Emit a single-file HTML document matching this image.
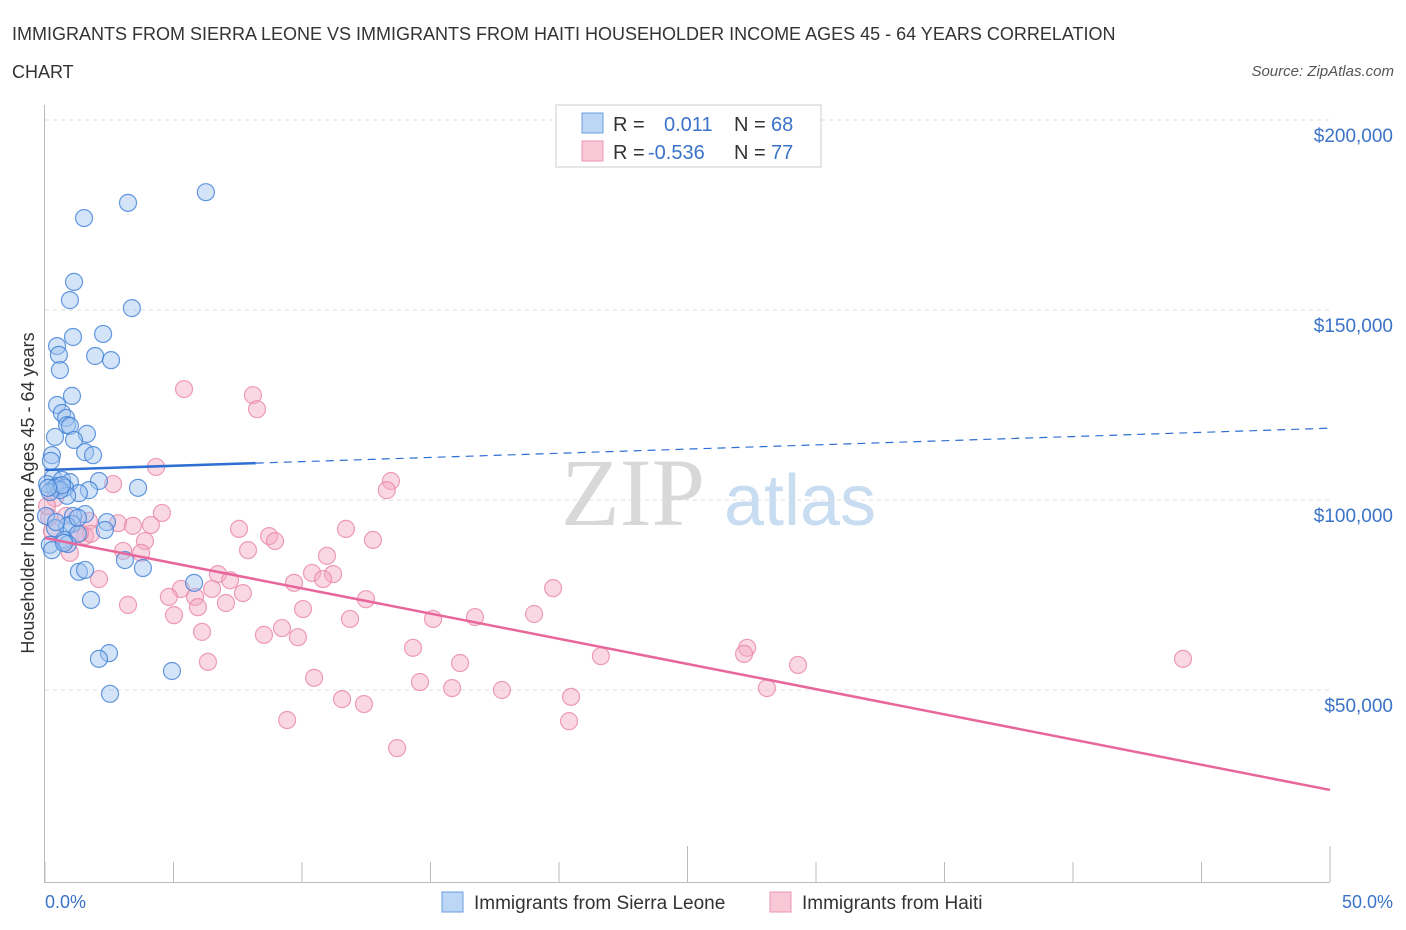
<!DOCTYPE html>
<html><head><meta charset="utf-8"><style>
body{margin:0;background:#fff;font-family:"Liberation Sans",sans-serif;}
svg{display:block}
</style></head><body>
<svg id="chart" width="1406" height="930">
<text x="12" y="40" font-size="18" fill="#333">IMMIGRANTS FROM SIERRA LEONE VS IMMIGRANTS FROM HAITI HOUSEHOLDER INCOME AGES 45 - 64 YEARS CORRELATION</text>
<text x="12" y="78" font-size="18" fill="#333">CHART</text>
<text x="1394" y="76" font-size="15" fill="#555" font-style="italic" text-anchor="end">Source: ZipAtlas.com</text>
<g>
<text x="633" y="525" font-size="96" fill="#d8d8d8" text-anchor="middle" font-family="Liberation Serif, serif">ZIP</text>
<text x="800" y="525" font-size="72" fill="#c8dcf2" text-anchor="middle">atlas</text>
</g>
<g id="grid"></g><g id="axes"></g><g id="marks"></g>
<text transform="translate(34,493) rotate(-90)" font-size="18" fill="#333" text-anchor="middle">Householder Income Ages 45 - 64 years</text>
<text x="45" y="908" font-size="18" fill="#3b73c8">0.0%</text>
<text x="1393" y="908" font-size="18" fill="#3b73c8" text-anchor="end">50.0%</text>
<g>
<rect x="556" y="105" width="265" height="62" fill="#fff" stroke="#ccc"/>
<rect x="582" y="113" width="21" height="20" fill="#bcd6f5" stroke="#6a9ee0"/>
<text x="613" y="131" font-size="20" fill="#333">R = </text><text x="664" y="131" font-size="20" fill="#3b73c8">0.011</text>
<text x="734" y="131" font-size="20" fill="#333">N = </text><text x="771" y="131" font-size="20" fill="#3b73c8">68</text>
<rect x="582" y="141" width="21" height="20" fill="#f9c8d7" stroke="#ec95b0"/>
<text x="613" y="159" font-size="20" fill="#333">R = </text><text x="648" y="159" font-size="20" fill="#3b73c8">-0.536</text>
<text x="734" y="159" font-size="20" fill="#333">N = </text><text x="771" y="159" font-size="20" fill="#3b73c8">77</text>
</g>
<g>
<rect x="442" y="892" width="21" height="20" fill="#bcd6f5" stroke="#6a9ee0"/>
<text x="474" y="909" font-size="19" fill="#333">Immigrants from Sierra Leone</text>
<rect x="770" y="892" width="21" height="20" fill="#f9c8d7" stroke="#ec95b0"/>
<text x="802" y="909" font-size="19" fill="#333">Immigrants from Haiti</text>
</g>
</svg>
<script>
const yTicks=[50000,100000,150000,200000];
const yTickLabels=["$50,000","$100,000","$150,000","$200,000"];
const blueX=[6.26,3.23,1.52,1.13,3.38,0.97,2.26,1.09,0.47,0.54,1.95,2.57,0.58,1.05,0.47,0.66,0.82,0.86,0.97,1.63,0.39,1.13,1.56,1.87,0.27,0.23,0.31,2.10,0.66,0.97,0.08,0.47,3.62,0.39,0.78,1.71,1.32,0.86,0.58,0.19,1.56,1.09,0.04,2.41,1.05,0.86,0.39,2.33,1.28,0.74,0.89,0.19,0.27,3.11,3.81,1.32,1.56,5.80,1.79,2.49,2.10,4.94,2.53,0.66,0.12,0.74,0.43,1.28];
const blueY=[181000,178200,174200,157400,150500,152600,143700,142900,140500,138200,137900,136800,134200,127400,125000,122900,121600,119700,119500,117400,116600,115800,112600,111800,111800,110300,105800,105000,105300,104700,104200,103700,103200,103200,103200,102600,101800,101100,102600,102100,96300,95800,95800,94200,93700,93200,92600,92100,91100,89500,88400,88200,86800,84200,82100,81100,81600,78200,73700,59700,58200,55000,49000,103900,103200,88700,94200,95300];
const pinkX=[5.41,8.09,8.25,4.32,13.46,13.30,2.65,0.39,4.55,0.82,2.84,1.71,4.12,3.42,7.55,11.71,0.27,8.72,1.56,8.95,12.76,3.89,0.97,3.04,3.74,7.90,10.97,6.73,7.20,10.39,11.21,2.10,10.82,9.69,5.29,6.50,7.70,19.77,5.84,4.82,7.04,12.49,5.95,3.23,10.04,19.03,5.02,11.87,15.10,16.73,6.11,9.22,8.52,9.84,14.32,27.32,21.63,27.20,29.30,16.15,44.28,6.34,10.47,14.59,15.84,17.78,28.09,11.56,20.47,12.41,9.42,20.39,13.70,0.16,0.08,1.79,1.36];
const pinkY=[129200,127600,123900,108700,105000,102600,104200,100500,96600,95800,93900,94500,93400,93200,92400,92400,91800,90500,90500,89200,89500,89200,86100,86600,86100,86800,85300,80500,78900,80800,80500,79200,79200,78200,76600,76600,75500,76800,74500,74500,72900,73900,71800,72400,71300,70000,69700,68700,68700,69200,65300,66300,64500,63900,61100,61100,58900,59500,56600,57100,58200,57400,53200,52100,50500,50000,50500,47600,48200,46300,42100,41800,34700,95500,98400,91100,91300];
const blueTrend=[107900,118900];
const pinkTrend=[90000,23700];
const trendX=[0,50];
const NS="http://www.w3.org/2000/svg";
const X=v=>45+v/50*1285;
const Y=v=>880-v/100000*380;
function mk(tag,attrs,parent){const e=document.createElementNS(NS,tag);for(const k in attrs)e.setAttribute(k,attrs[k]);document.getElementById(parent).appendChild(e);return e;}
yTicks.forEach((t,i)=>{
 const l=mk('line',{x1:45,x2:1330,y1:Y(t),y2:Y(t),stroke:'#ddd','stroke-dasharray':'4,4'},'grid');
 
 
 const tx=mk('text',{x:1393,y:Y(t)+22,'font-size':19,fill:'#3b73c8','text-anchor':'end'},'grid');
 tx.textContent=yTickLabels[i];
 
 
});
const ya=mk('line',{x1:44.5,x2:44.5,y1:105,y2:882,stroke:'#bbb'},'axes');


const xa=mk('line',{x1:44,x2:1330,y1:882.5,y2:882.5,stroke:'#bbb'},'axes');


for(let i=0;i<=10;i++){
 const t=mk('line',{x1:X(i*5),x2:X(i*5),y1:(i==5||i==10)?846:862,y2:882,stroke:'#bbb'},'axes');
 
 
}
function pts(xs,ys,fill,stroke,name){
 xs.forEach((x,i)=>{
  const c=mk('circle',{cx:X(x),cy:Y(ys[i]),r:8.5,fill:fill,'fill-opacity':0.45,stroke:stroke,'stroke-width':1.2,'stroke-opacity':0.8},'marks');
  
  
 });
}
pts(pinkX,pinkY,'#f5a9c0','#e986a6','haiti-point');
pts(blueX,blueY,'#9fc3ef','#3f7fd6','sierra-leone-point');
const bx=8.2, by=blueTrend[0]+(blueTrend[1]-blueTrend[0])*bx/50;
const b1=mk('line',{x1:X(trendX[0]),y1:Y(blueTrend[0]),x2:X(bx),y2:Y(by),stroke:'#2f6fd3','stroke-width':2.5},'marks');


const b2=mk('line',{x1:X(bx),y1:Y(by),x2:X(trendX[1]),y2:Y(blueTrend[1]),stroke:'#2f6fd3','stroke-width':1.2,'stroke-dasharray':'8,6'},'marks');


const p1=mk('line',{x1:X(trendX[0]),y1:Y(pinkTrend[0]),x2:X(trendX[1]),y2:Y(pinkTrend[1]),stroke:'#e8679a','stroke-width':2.5},'marks');


</script>
</body></html>
